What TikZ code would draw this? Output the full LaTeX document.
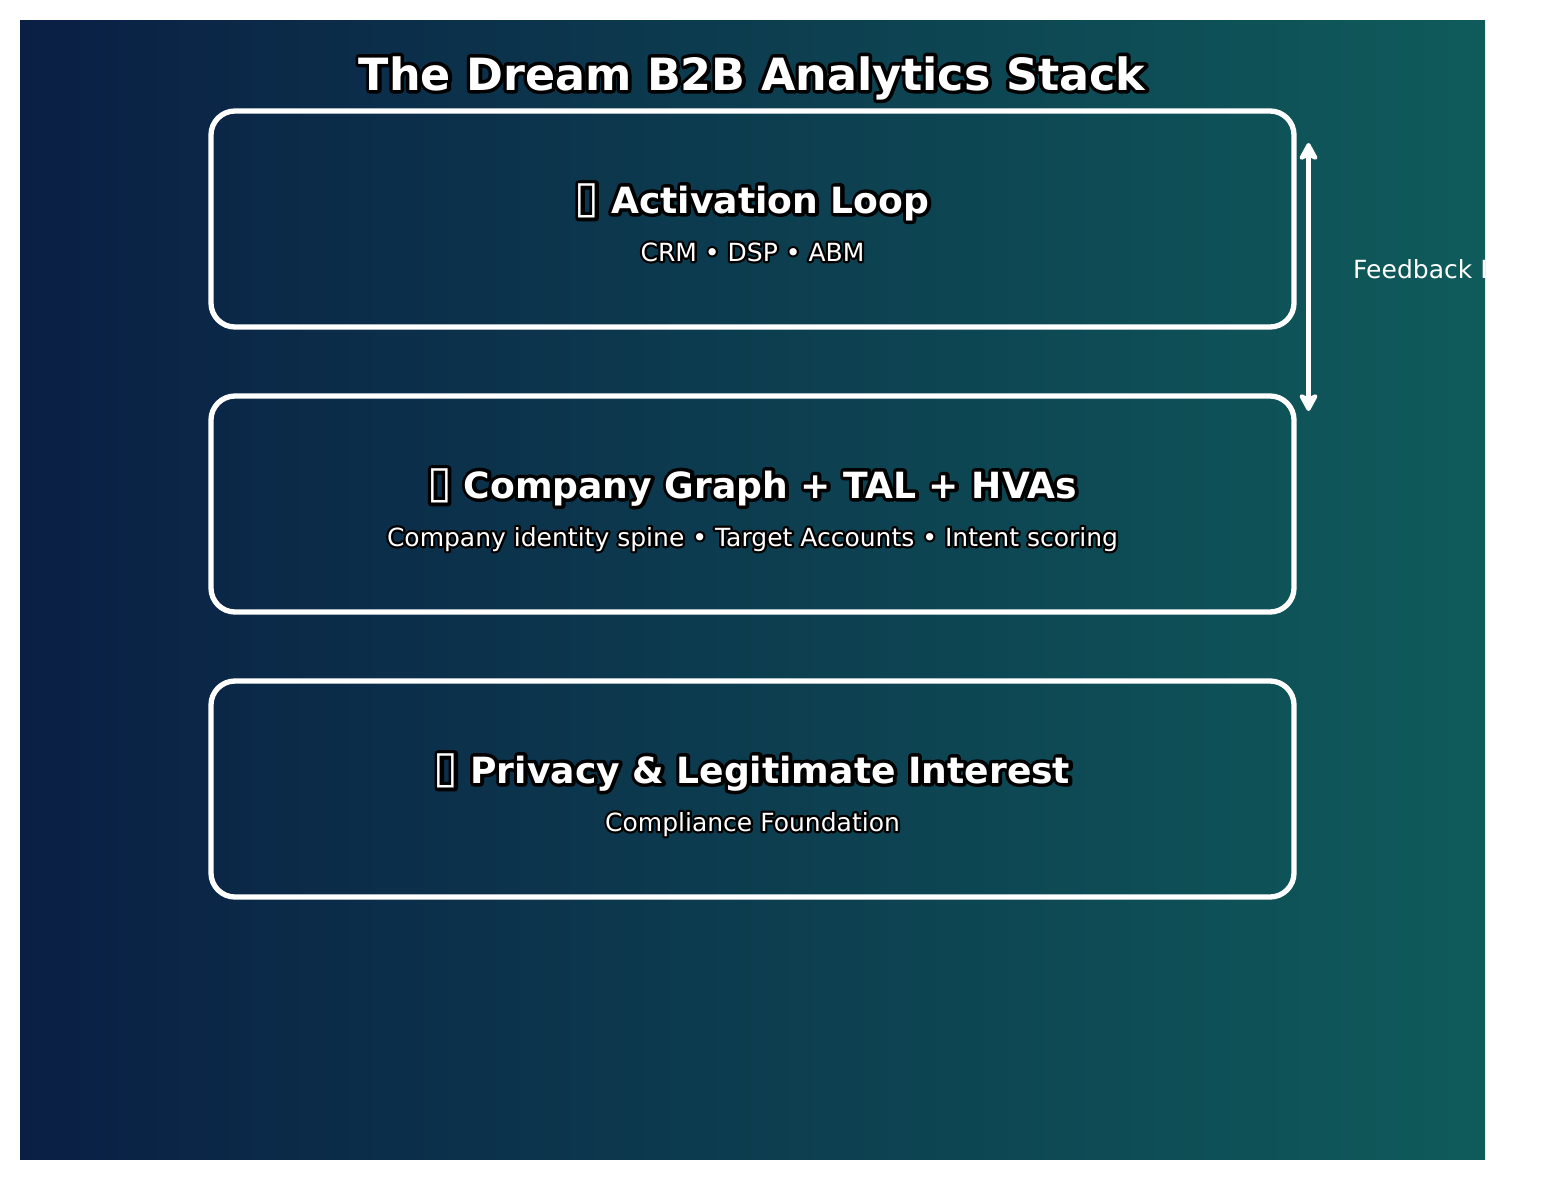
\documentclass[tikz,border=0pt]{standalone}
\usepackage{fontspec}
\setmainfont{DejaVu Sans}
\usetikzlibrary{arrows.meta}
\definecolor{bgleft}{RGB}{10,31,68}
\definecolor{bgright}{RGB}{15,91,91}
\newcommand\outl[2]{\leavevmode\rlap{\special{pdf:code q 1 Tr #1 w 0 0 0 RG 1 j 1 J}#2\special{pdf:code Q}}#2}
\newcommand\tofu{\makebox[0.64em][c]{\raisebox{0.5bp}{\fontsize{45}{45}\selectfont\symbol{"25AF}}}}
\tikzset{
  panel/.style={draw=white,line width=5.3bp,rounded corners=24bp,minimum width=1083bp,minimum height=216bp,inner sep=0pt},
  titletext/.style={text=white,anchor=base,inner sep=0pt,font=\fontsize{44.6}{50}\selectfont\bfseries},
  headtext/.style={text=white,anchor=base,inner sep=0pt,font=\fontsize{36.25}{40}\selectfont\bfseries},
  subtext/.style={text=white,anchor=base,inner sep=0pt,font=\fontsize{25.1}{28}\selectfont},
  sidetext/.style={text=white,anchor=base west,inner sep=0pt,font=\fontsize{25.1}{28}\selectfont},
  looptip/.tip={Stealth[round,length=21pt,width=22.5pt,inset=5pt]},
  loopline/.style={draw=white,line width=5.5bp,arrows={looptip-looptip}}
}
\begin{document}
\begin{tikzpicture}[x=1bp,y=-1bp]
\useasboundingbox (0,0) rectangle (1559,1180);
\fill[left color=bgleft,right color=bgright] (20,20) rectangle (1485,1159.6);
\node[panel] (act) at (752.5,219) {};
\node[panel] (graph) at (752.5,504) {};
\node[panel] (priv) at (752.5,789) {};
\node[titletext] (title) at (752,90) {\outl{7}{The Dream B2B Analytics Stack}};
\node[headtext] (acth) at (752.5,213) {\outl{7}{\tofu\ Activation Loop}};
\node[subtext] (acts) at (752.5,261) {\outl{4.5}{CRM • DSP • ABM}};
\node[headtext] (graphh) at (752.5,498) {\outl{7}{\tofu\ Company Graph + TAL + HVAs}};
\node[subtext] (graphs) at (752.5,546) {\outl{4.5}{Company identity spine • Target Accounts • Intent scoring}};
\node[headtext] (privh) at (752.5,783) {\outl{7}{\tofu\ Privacy \& Legitimate Interest}};
\node[subtext] (privs) at (752.5,831) {\outl{4.5}{Compliance Foundation}};
\coordinate (looptop) at (1308.5,143);
\coordinate (loopbot) at (1308.5,411);
\draw[loopline] (looptop) -- (loopbot);
\begin{scope}
\clip (20,20) rectangle (1485,1160);
\node[sidetext] (side) at (1353,278) {Feedback Loop};
\end{scope}
\end{tikzpicture}
\end{document}
